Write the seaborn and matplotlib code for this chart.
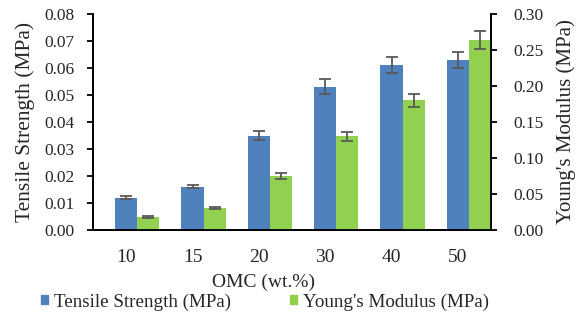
import numpy as np
import pandas as pd
import matplotlib
matplotlib.use("Agg")
import matplotlib.pyplot as plt
import seaborn as sns
from matplotlib.patches import Patch

# data
omc = ["10", "15", "20", "30", "40", "50"]
tensile = [0.012, 0.016, 0.035, 0.053, 0.061, 0.063]
tensile_err = [0.0007, 0.0006, 0.0018, 0.0028, 0.003, 0.003]
modulus = [0.018, 0.030, 0.075, 0.130, 0.180, 0.264]
modulus_err = [0.001, 0.0015, 0.004, 0.0065, 0.009, 0.013]

ts_name = "Tensile Strength (MPa)"
ym_name = "Young's Modulus (MPa)"
blue = "#4F81BD"
green = "#92D050"
err_col = "#595959"

sns.set_style("white")
plt.rcParams['font.family'] = ['Liberation Serif', 'DejaVu Serif']
plt.rcParams['font.size'] = 12

# long table, each axis only gets its own series (other one NaN) so dodge stays the same
df_ts = pd.DataFrame({"omc": omc * 2,
                      "series": [ts_name] * 6 + [ym_name] * 6,
                      "val": tensile + [np.nan] * 6})
df_ym = pd.DataFrame({"omc": omc * 2,
                      "series": [ts_name] * 6 + [ym_name] * 6,
                      "val": [np.nan] * 6 + modulus})

fig = plt.figure(figsize=(5.79, 3.24), dpi=100)
ax = fig.add_axes([93 / 579, 1 - 230 / 324, 398 / 579, 216 / 324])
ax2 = ax.twinx()

hue_order = [ts_name, ym_name]
pal = {ts_name: blue, ym_name: green}
sns.barplot(data=df_ts, x="omc", y="val", hue="series", hue_order=hue_order,
            palette=pal, order=omc, errorbar=None, width=0.667, ax=ax,
            saturation=1, legend=False, linewidth=0)
sns.barplot(data=df_ym, x="omc", y="val", hue="series", hue_order=hue_order,
            palette=pal, order=omc, errorbar=None, width=0.667, ax=ax2,
            saturation=1, legend=False, linewidth=0)

# error bars at bar centres
def bar_centres(a):
    bars = [p for p in a.patches if p.get_height() > 0]
    bars = sorted(bars, key=lambda p: p.get_x())
    return np.array([p.get_x() + p.get_width() / 2 for p in bars])

def add_err(a, vals, errs):
    a.errorbar(bar_centres(a), vals, yerr=errs, fmt="none", ecolor=err_col,
               elinewidth=1.3, capsize=4, capthick=1.3, zorder=5)

add_err(ax, tensile, tensile_err)
add_err(ax2, modulus, modulus_err)

# Excel style: category label sits under the blue bar, green bar to its right
ts_x = bar_centres(ax)
shift = ts_x[0] - 0
ax.set_xlim(-0.5 + shift, 5.5 + shift)
ax.set_xticks(ts_x)
ax.set_xticklabels(omc)

ax.set_ylim(0, 0.08)
ax2.set_ylim(0, 0.30)
ax.set_yticks(np.arange(0, 0.081, 0.01))
ax2.set_yticks(np.arange(0, 0.301, 0.05))
ax.set_yticklabels([f"{v:.2f}" for v in np.arange(0, 0.081, 0.01)])
ax2.set_yticklabels([f"{v:.2f}" for v in np.arange(0, 0.301, 0.05)])

ax.set_xlabel("OMC (wt.%)", fontsize=14)
ax.xaxis.set_label_coords((264 - 93) / 398, (230 - 282) / 216)
ax.xaxis.label.set_va("center")
ax.set_ylabel("Tensile Strength (MPa)", fontsize=15.5, labelpad=7)
ax2.set_ylabel("Young's Modulus (MPa)", fontsize=15, labelpad=9)

for a in (ax, ax2):
    a.spines["top"].set_visible(False)
    for s in ("left", "right", "bottom"):
        a.spines[s].set_color("black")
        a.spines[s].set_linewidth(1.3)
ax.tick_params(axis="y", left=True, length=4, width=1.3, color="black",
               pad=9, labelsize=12.5)
ax.tick_params(axis="x", bottom=False, pad=10, labelsize=14)
ax2.tick_params(axis="y", right=True, length=4, width=1.3, color="black",
                pad=12, labelsize=12.5)

handles = [Patch(color=blue, label=ts_name), Patch(color=green, label=ym_name)]
fig.legend(handles=handles, loc="center", bbox_to_anchor=(265 / 579, 1 - 302 / 324),
           ncol=2, frameon=False, handlelength=0.38, handleheight=0.38,
           handletextpad=0.3, columnspacing=3.1, fontsize=13.7)

fig.savefig("out.png", dpi=100)
